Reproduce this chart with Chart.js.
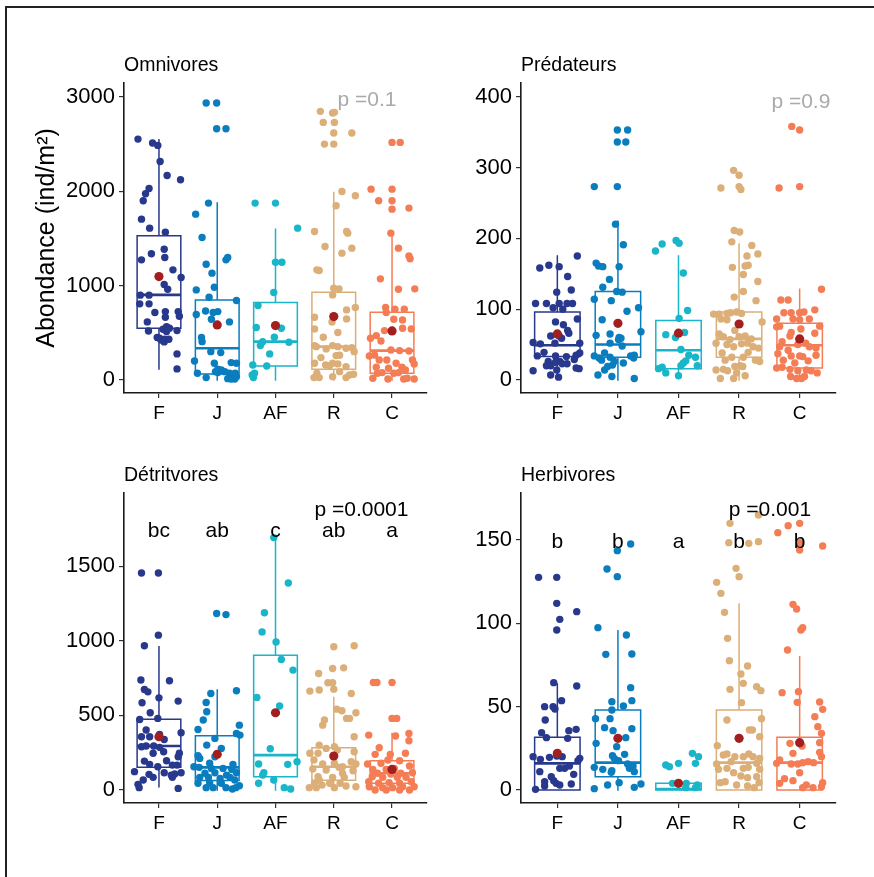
<!DOCTYPE html>
<html>
<head>
<meta charset="utf-8">
<script src="https://cdn.jsdelivr.net/npm/chart.js@4.4.1/dist/chart.umd.min.js"></script>
<style>
    body { margin: 0; background: #fff; width: 874px; height: 877px; overflow: hidden; position: relative; }
    canvas { position: absolute; }
    #frame { position: absolute; left: 5px; top: 6px; width: 1000px; height: 1000px; border-left: 2px solid #222; border-top: 2px solid #222; }
</style>
</head>
<body>
<div id="frame"></div>
<canvas id="omni" width="437" height="440" style="left:0;top:0"></canvas>
<canvas id="pred" width="437" height="440" style="left:437px;top:0"></canvas>
<canvas id="det" width="437" height="437" style="left:0;top:440px"></canvas>
<canvas id="herb" width="437" height="437" style="left:437px;top:440px"></canvas>
<script>
const groups = ["F", "J", "AF", "R", "C"];
const groupColors = ["#28388c", "#0a7dbf", "#19b5c9", "#dcae78", "#f47d55"];
const meanColor = "#a31f1f";

// each point: [jitter around the category, value]
const omniF = [[-0.36,2551],[-0.11,2509],[-0.02,2484],[0.02,2314],[0.14,2166],[0.37,2120],[-0.17,2028],[-0.23,1972],[-0.27,1898],[-0.30,1703],[-0.16,1608],[0.11,1565],[-0.30,1272],[-0.13,1336],[0.09,1385],[0.10,1297],[0.24,1166],[0.38,1085],[0.09,1011],[0.15,961],[-0.32,898],[-0.17,898],[-0.33,806],[-0.17,806],[0.11,724],[-0.07,714],[0.33,724],[0.35,675],[-0.20,615],[0.11,664],[0.13,565],[0.18,548],[-0.18,519],[0.07,537],[0.31,523],[0.13,512],[-0.03,449],[0.01,442],[0.04,424],[0.10,431],[0.17,431],[0.09,403],[0.31,276],[0.31,117]];
const omniJ = [[-0.19,2933],[-0.01,2933],[-0.01,2661],[0.15,2661],[-0.15,1873],[-0.37,1756],[-0.26,1509],[-0.19,1226],[-0.09,1131],[0.15,1272],[0.18,1297],[-0.05,982],[-0.36,954],[-0.14,876],[0.33,841],[-0.36,693],[-0.20,731],[-0.07,714],[0.01,724],[-0.10,643],[0.21,615],[-0.27,449],[-0.26,406],[-0.11,300],[0.06,290],[-0.39,201],[-0.05,177],[0.24,184],[0.33,177],[0.01,113],[0.07,106],[0.13,88],[-0.34,71],[-0.19,25],[0.21,71],[0.28,60],[0.31,71],[0.18,14],[0.24,11],[0.30,11],[0.33,35],[0.01,78],[-0.03,88]];
const omniAF = [[-0.35,1873],[0.00,1873],[0.38,1608],[0.00,1247],[0.11,1247],[-0.30,788],[-0.03,926],[-0.33,555],[0.10,548],[-0.02,452],[-0.22,406],[0.23,399],[-0.26,364],[-0.10,276],[-0.39,159],[-0.15,148],[-0.40,53],[-0.36,71],[-0.38,25]];
const omniR = [[-0.23,2845],[-0.02,2827],[0.01,2834],[-0.18,2728],[0.01,2728],[0.00,2615],[0.31,2615],[-0.16,2498],[0.00,2498],[0.14,1996],[0.37,1951],[0.04,1845],[0.22,1572],[0.24,1555],[-0.33,1572],[-0.15,1413],[0.31,1396],[0.14,1343],[-0.29,1166],[-0.25,1159],[0.00,972],[0.09,965],[-0.02,901],[0.37,767],[0.22,742],[0.22,647],[-0.03,615],[-0.33,664],[-0.33,541],[-0.18,452],[0.07,502],[-0.33,364],[-0.02,364],[0.07,353],[0.31,343],[-0.30,353],[-0.13,329],[0.21,336],[-0.22,237],[0.04,258],[0.10,261],[0.35,300],[-0.33,177],[-0.02,177],[-0.14,159],[-0.07,152],[0.07,170],[0.21,141],[0.34,60],[-0.34,25],[-0.25,25],[-0.02,35],[0.21,25],[0.27,53],[-0.29,71],[0.10,88]];
const omniC = [[0.00,2516],[0.14,2516],[-0.36,2021],[0.00,2021],[-0.23,1898],[0.00,1898],[0.00,1809],[0.29,1820],[-0.02,1555],[0.11,1396],[0.29,1314],[0.31,1283],[-0.20,1071],[0.11,961],[0.39,965],[-0.11,767],[0.05,749],[0.21,749],[-0.10,714],[0.03,643],[0.18,636],[-0.13,523],[0.33,541],[0.18,548],[-0.37,442],[-0.27,470],[-0.19,413],[-0.02,318],[0.13,311],[0.29,307],[-0.39,254],[-0.30,265],[-0.22,212],[-0.09,212],[-0.06,124],[0.07,177],[0.35,212],[0.38,170],[-0.27,134],[0.17,134],[0.23,106],[-0.25,71],[-0.17,78],[0.03,71],[0.11,78],[-0.07,11],[0.20,11],[0.26,18],[0.38,11],[-0.33,18]];

const predF = [[0.33,175],[-0.29,158],[-0.14,162],[0.03,160],[0.17,146],[0.23,127],[-0.01,124],[-0.36,108],[-0.18,108],[0.03,108],[0.16,108],[0.25,108],[-0.07,102],[0.09,100],[0.33,86],[-0.03,82],[0.10,78],[-0.40,53],[-0.28,51],[-0.11,62],[-0.04,52],[0.03,62],[0.17,70],[0.19,66],[0.07,59],[0.37,52],[-0.22,39],[-0.03,34],[0.31,35],[-0.33,34],[0.15,33],[0.28,29],[-0.15,26],[0.04,26],[-0.11,20],[0.08,23],[-0.03,25],[0.16,23],[0.31,17],[0.36,16],[-0.40,13],[-0.11,7],[0.02,4],[-0.18,20],[-0.01,14],[0.37,38]];
const predJ = [[-0.01,353],[0.16,353],[-0.01,336],[0.13,336],[-0.39,273],[-0.01,273],[-0.04,220],[0.09,191],[-0.36,165],[-0.32,161],[-0.25,160],[0.02,160],[-0.14,142],[-0.25,131],[-0.39,114],[-0.02,125],[0.07,124],[-0.11,112],[0.34,102],[0.15,97],[-0.26,85],[-0.36,63],[-0.13,65],[0.02,60],[0.01,57],[0.38,68],[-0.13,52],[0.07,48],[-0.39,34],[-0.22,38],[-0.31,31],[-0.13,32],[-0.06,26],[0.21,34],[0.27,35],[0.26,31],[-0.17,19],[-0.09,21],[-0.22,14],[0.09,24],[-0.33,7],[-0.10,5],[0.27,2],[0.05,59],[-0.27,28]];
const predAF = [[-0.38,182],[-0.27,192],[-0.04,197],[0.01,193],[0.08,151],[0.15,98],[0.01,87],[-0.21,64],[-0.05,60],[0.10,67],[0.04,43],[0.17,35],[0.28,32],[-0.27,18],[-0.33,16],[-0.21,10],[0.08,24],[0.12,27],[0.04,20],[0.31,20],[0.00,6]];
const predR = [[-0.09,296],[0.00,289],[-0.30,271],[0.00,273],[0.03,269],[-0.08,211],[0.01,209],[-0.12,195],[0.21,190],[0.13,175],[0.31,178],[-0.11,159],[0.10,161],[0.15,162],[0.07,149],[0.31,139],[0.07,125],[-0.08,117],[0.28,112],[-0.42,93],[-0.33,93],[-0.20,94],[-0.14,95],[-0.04,96],[0.04,94],[-0.30,86],[-0.20,85],[0.38,82],[-0.07,70],[-0.33,65],[-0.26,61],[-0.15,57],[0.00,61],[0.10,62],[0.20,58],[-0.38,52],[-0.20,50],[-0.09,47],[0.04,51],[0.14,52],[0.23,47],[0.32,45],[-0.28,38],[-0.12,32],[0.07,32],[0.15,39],[-0.23,28],[0.27,28],[0.34,26],[0.02,20],[-0.07,19],[-0.38,14],[-0.26,15],[-0.19,13],[-0.04,10],[0.06,19],[-0.31,2],[-0.09,2],[0.10,6]];
const predC = [[-0.13,358],[0.00,353],[-0.34,271],[0.00,273],[0.36,128],[-0.31,113],[-0.19,113],[0.25,99],[-0.26,95],[-0.14,95],[0.00,95],[0.07,96],[-0.38,86],[-0.33,76],[-0.11,86],[0.00,85],[0.16,86],[0.33,76],[-0.38,75],[0.02,72],[0.25,66],[-0.14,67],[-0.29,54],[-0.16,62],[0.10,52],[0.16,47],[-0.03,50],[-0.33,47],[0.27,45],[-0.19,42],[-0.36,37],[-0.14,34],[0.00,34],[0.27,35],[0.05,33],[-0.27,28],[-0.08,24],[0.14,27],[-0.38,17],[-0.29,18],[-0.16,15],[-0.03,13],[0.11,14],[0.19,13],[0.29,10],[-0.15,5],[-0.05,2],[0.03,2],[0.08,5]];

const detF = [[-0.30,1455],[-0.01,1455],[-0.01,1038],[-0.25,967],[-0.31,737],[0.18,732],[-0.25,674],[-0.19,658],[-0.29,585],[0.00,618],[0.33,596],[-0.15,518],[-0.33,473],[-0.02,480],[-0.22,402],[-0.30,357],[-0.16,357],[0.01,373],[0.09,339],[0.38,384],[-0.30,290],[-0.22,295],[-0.09,295],[0.01,286],[0.35,246],[0.33,223],[-0.10,246],[0.08,257],[0.13,196],[-0.25,194],[-0.16,172],[-0.02,156],[0.23,167],[0.31,167],[-0.42,123],[-0.17,105],[0.09,116],[0.21,100],[0.27,107],[0.38,116],[-0.10,85],[0.23,85],[-0.27,67],[-0.36,38],[-0.34,16],[0.33,11]];
const detJ = [[-0.01,1183],[0.15,1176],[0.33,665],[-0.11,647],[-0.19,587],[-0.18,525],[-0.24,469],[-0.33,406],[0.38,435],[0.33,379],[-0.04,346],[0.39,368],[-0.18,301],[0.07,279],[-0.33,230],[-0.30,212],[-0.04,223],[-0.13,179],[0.27,172],[-0.40,156],[-0.31,152],[-0.10,145],[0.10,145],[0.25,138],[-0.21,112],[-0.04,116],[0.16,100],[0.33,116],[-0.30,85],[-0.15,85],[0.05,78],[0.22,85],[0.30,67],[-0.33,45],[-0.13,49],[0.07,45],[0.38,29],[-0.19,16],[-0.07,16],[0.15,16],[0.26,7],[0.32,16]];
const detAF = [[-0.03,1692],[0.22,1388],[-0.19,1188],[-0.23,1060],[0.01,993],[0.10,875],[0.30,804],[-0.32,621],[0.07,563],[-0.09,277],[-0.29,174],[-0.20,116],[-0.22,100],[0.21,172],[0.37,190],[-0.03,67],[-0.29,45],[0.15,16],[0.26,7]];
const detR = [[0.00,960],[0.35,967],[0.17,819],[-0.02,815],[-0.26,781],[-0.10,719],[-0.02,719],[0.00,676],[-0.41,663],[-0.25,670],[0.30,647],[0.05,542],[0.14,531],[0.22,480],[0.27,480],[0.38,518],[-0.16,469],[-0.19,435],[0.35,357],[-0.25,301],[0.06,268],[0.35,257],[-0.41,246],[-0.27,246],[0.01,290],[-0.13,279],[-0.34,201],[-0.19,174],[0.01,179],[0.30,190],[0.09,152],[0.15,156],[0.38,174],[-0.36,141],[-0.13,134],[0.15,112],[0.33,129],[-0.27,89],[-0.02,85],[0.18,85],[-0.33,45],[-0.20,33],[-0.07,45],[0.11,45],[0.21,27],[0.38,22],[-0.42,16],[-0.30,16],[0.01,16],[-0.25,67]];
const detC = [[-0.32,721],[-0.26,721],[0.00,721],[0.00,480],[0.08,480],[-0.40,368],[-0.22,283],[0.29,379],[0.06,362],[0.29,330],[-0.29,239],[-0.03,239],[0.23,246],[-0.07,201],[0.13,196],[-0.42,174],[-0.19,179],[-0.33,138],[-0.10,138],[0.04,145],[0.30,161],[-0.25,112],[-0.02,107],[0.15,112],[0.35,116],[-0.34,89],[-0.16,85],[0.09,85],[0.24,85],[-0.40,56],[-0.23,45],[-0.05,49],[0.13,45],[0.33,56],[-0.39,22],[-0.16,16],[0.01,16],[0.18,22],[0.38,22],[-0.29,0],[-0.10,0],[0.13,0],[0.30,0]];

const herbF = [[-0.31,127.6],[-0.01,127.6],[-0.01,112],[0.04,102.4],[0.32,107],[-0.01,96],[-0.06,64.4],[0.32,62.4],[0.07,53.6],[-0.21,50],[-0.07,50],[-0.04,48.6],[-0.20,42],[-0.26,34.4],[-0.18,31.4],[0.17,31],[0.31,36.4],[0.19,35.6],[-0.40,20],[-0.28,18.4],[-0.13,19.6],[-0.01,20.4],[0.08,20],[0.37,19],[0.34,17.6],[0.04,13],[0.12,13],[0.20,14.4],[-0.29,11],[-0.10,8],[0.27,9.4],[-0.21,5],[-0.06,5.6],[-0.02,4],[0.04,3],[0.23,3.6],[-0.36,0.4],[-0.21,2.4]];
const herbJ = [[0.21,147.6],[-0.01,143.6],[-0.18,132.6],[-0.01,128],[-0.33,97.4],[0.14,93],[-0.20,81.4],[0.23,81.6],[0.21,61.4],[-0.10,53],[0.23,53.6],[0.09,50.4],[-0.10,48],[-0.37,42.8],[-0.13,42.8],[-0.22,37.4],[-0.08,35.6],[0.23,36.8],[-0.36,28],[0.13,31.4],[-0.02,26],[-0.09,20.6],[0.11,21.4],[-0.06,19],[0.01,17.6],[0.16,15.6],[0.25,14.4],[-0.39,13.6],[-0.25,12.4],[-0.10,11.6],[0.19,13],[0.27,11],[-0.11,10.6],[0.02,4.4],[-0.17,3],[0.38,3.6],[-0.39,0.8],[0.27,1.6]];
const herbAF = [[-0.21,15],[-0.15,14],[0.00,16],[0.23,22],[0.33,20],[0.28,16],[-0.10,4],[0.13,4],[0.31,3],[0.12,1.4],[0.28,1.4]];
const herbR = [[-0.15,160],[0.32,165],[-0.17,148.4],[0.16,148],[0.32,149],[-0.05,133],[0.00,128],[-0.37,124.6],[-0.30,118],[-0.24,106.6],[-0.19,91],[-0.16,77.6],[0.14,74.4],[0.03,69.6],[0.07,64],[-0.15,60.4],[0.29,62],[0.36,59.6],[0.04,52.4],[-0.20,42],[0.37,42.8],[-0.36,26.6],[0.17,36],[0.22,36],[0.34,32],[-0.20,21.6],[-0.07,20],[0.07,20],[0.16,21.6],[0.23,20],[0.34,19],[-0.26,21],[-0.13,17],[0.29,16],[-0.37,15.6],[-0.20,13],[0.07,13],[0.15,13.6],[0.34,12.4],[-0.34,12.4],[-0.09,10.4],[0.03,8.4],[0.14,7.4],[0.29,8],[-0.31,4.4],[-0.23,5],[-0.04,3],[0.14,2.4],[0.25,1.4],[0.33,4.4]];
const herbC = [[-0.36,154.4],[-0.19,158.6],[0.00,160],[0.00,148.4],[0.00,144],[0.38,146.4],[-0.11,111.4],[-0.05,108.6],[0.02,96],[0.05,97.4],[-0.20,84],[-0.29,58.4],[-0.02,59],[-0.04,52.6],[0.33,52.8],[0.25,44],[0.38,48.4],[0.30,38],[0.36,34],[0.33,28.4],[-0.16,28],[-0.11,22],[0.04,26.4],[-0.38,16],[0.14,17],[0.33,22.6],[0.36,20],[-0.33,18],[-0.14,15.6],[-0.03,15.6],[0.05,16.4],[0.23,16.4],[0.00,10.4],[-0.25,6.8],[-0.11,5.6],[0.11,3],[-0.33,4],[0.22,1.4],[0.36,2],[0.38,4.4],[0.05,1.4]];

// box stats per group: [low whisker, q1, median, q3, high whisker, mean]
const omniStats = [[117,548,901,1527,2544,1095],[0,64,336,848,1873,583],[0,148,406,820,1597,576],[0,113,353,929,1986,671],[0,71,311,717,1572,519]];
const predStats = [[3,33,49,96,175,65],[0,32,50,125,224,80],[6,16,42,84,175,66],[0,32,58,96,192,79],[2,17,49,80,128,58]];
const detStats = [[22,152,295,475,960,357],[0,63,152,364,670,239],[0,89,234,904,1692,518],[0,66,156,283,621,228],[0,45,112,196,379,138]];
const herbStats = [[0,0,16,31.6,63.6,22],[0,8,16.4,48,95.6,31],[0,0,0.6,4,4,4],[0,0,16.4,48,111.6,31],[0,0,16.4,31.6,80,28.4]];

const omniTicks = [0, 1000, 2000, 3000];
const predTicks = [0, 100, 200, 300, 400];
const detTicks = [0, 500, 1000, 1500];
const herbTicks = [0, 50, 100, 150];

const detLetters = ["bc", "ab", "c", "ab", "a"];
const herbLetters = ["b", "b", "a", "b", "b"];

const FONT = '"Liberation Sans", Arial, sans-serif';

// titles, p values, letters and the y title
const panelText = {
    id: "panelText",
    afterDraw(chart, args, o) {
        const { ctx, chartArea: a } = chart;
        const x = chart.scales.x, y = chart.scales.y;
        ctx.save();
        ctx.fillStyle = "#000";
        ctx.textBaseline = "alphabetic";
        ctx.textAlign = "left";
        ctx.font = "19.5px " + FONT;
        ctx.fillText(o.title, a.left, a.top - 12.3);

        ctx.font = "21px " + FONT;
        ctx.textAlign = "center";
        if (o.letters) {
            o.letters.forEach((t, i) => ctx.fillText(t, x.getPixelForValue(i + 1), y.getPixelForValue(o.lettersY)));
        }
        ctx.fillStyle = o.pColor;
        ctx.fillText(o.pText, x.getPixelForValue(o.pX), y.getPixelForValue(o.pY));

        if (o.yTitle) {
            ctx.fillStyle = "#000";
            ctx.font = "25px " + FONT;
            ctx.translate(54, (a.top + a.bottom) / 2);
            ctx.rotate(-Math.PI / 2);
            ctx.fillText(o.yTitle, 0, 0);
        }
        ctx.restore();
    }
};

function boxPath(s, c) {
    const w = 0.375;
    return [
        { x: c - w, y: s[1] }, { x: c + w, y: s[1] }, { x: c + w, y: s[3] }, { x: c - w, y: s[3] }, { x: c - w, y: s[1] },
        { x: c, y: null },
        { x: c, y: s[3] }, { x: c, y: s[4] },
        { x: c, y: null },
        { x: c, y: s[1] }, { x: c, y: s[0] }
    ];
}

function makePanel(id, p) {
    const datasets = [];
    datasets.push({
        data: p.stats.map((s, i) => ({ x: i + 1, y: s[5] })),
        pointRadius: 4.6, pointBackgroundColor: meanColor, pointBorderWidth: 0, showLine: false, order: 0
    });
    p.points.forEach((arr, i) => {
        datasets.push({
            data: arr.map(([j, v]) => ({ x: i + 1 + j, y: v })),
            pointRadius: 3.7, pointBackgroundColor: groupColors[i], pointBorderWidth: 0, showLine: false, order: 1
        });
    });
    p.stats.forEach((s, i) => {
        datasets.push({
            data: boxPath(s, i + 1), showLine: true, spanGaps: false, borderColor: groupColors[i],
            borderWidth: 1.5, pointRadius: 0, borderCapStyle: "square", borderJoinStyle: "miter", order: 2
        });
        datasets.push({
            data: [{ x: i + 1 - 0.375, y: s[2] }, { x: i + 1 + 0.375, y: s[2] }], showLine: true,
            borderColor: groupColors[i], borderWidth: 2.6, pointRadius: 0, order: 2
        });
    });

    return new Chart(document.getElementById(id), {
        type: "scatter",
        data: { datasets: datasets },
        plugins: [panelText],
        options: {
            responsive: false,
            devicePixelRatio: 1,
            animation: false,
            events: [],
            layout: { padding: p.padding },
            plugins: {
                legend: { display: false },
                tooltip: { enabled: false },
                panelText: p.text
            },
            scales: {
                x: {
                    type: "linear", min: 0.4, max: 5.6,
                    afterBuildTicks: s => { s.ticks = [1, 2, 3, 4, 5].map(v => ({ value: v })); },
                    afterFit: s => { s.height = p.xHeight; },
                    ticks: {
                        callback: v => groups[v - 1], autoSkip: false, maxRotation: 0,
                        color: "#000", padding: 4, font: { family: FONT, size: 19 }
                    },
                    grid: { drawOnChartArea: false, tickLength: 5, color: "#333", lineWidth: 1.2 },
                    border: { color: "#1a1a1a", width: 1.6 }
                },
                y: {
                    type: "linear", min: p.yMin, max: p.yMax,
                    afterBuildTicks: s => { s.ticks = p.ticks.map(v => ({ value: v })); },
                    afterFit: s => { s.width = p.yWidth; },
                    ticks: { callback: v => String(v), color: "#000", padding: 4, font: { family: FONT, size: 22 } },
                    grid: { drawOnChartArea: false, tickLength: 5, color: "#333", lineWidth: 1.2 },
                    border: { color: "#1a1a1a", width: 1.6 }
                }
            }
        }
    });
}

makePanel("omni", {
    points: [omniF, omniJ, omniAF, omniR, omniC], stats: omniStats, ticks: omniTicks,
    yMin: -138, yMax: 3145, yWidth: 124, xHeight: 47,
    padding: { top: 83, left: 0, right: 10, bottom: 0 },
    text: { title: "Omnivores", pText: "p =0.1", pColor: "#aaaaaa", pX: 4.57, pY: 2902, yTitle: "Abondance (ind/m²)" }
});
makePanel("pred", {
    points: [predF, predJ, predAF, predR, predC], stats: predStats, ticks: predTicks,
    yMin: -18.4, yMax: 419.3, yWidth: 84, xHeight: 47,
    padding: { top: 83, left: 0, right: 38, bottom: 0 },
    text: { title: "Prédateurs", pText: "p =0.9", pColor: "#aaaaaa", pX: 5.02, pY: 384 }
});
makePanel("det", {
    points: [detF, detJ, detAF, detR, detC], stats: detStats, ticks: detTicks,
    yMin: -87, yMax: 1991, yWidth: 124, xHeight: 74,
    padding: { top: 53, left: 0, right: 10, bottom: 0 },
    text: { title: "Détritvores", pText: "p =0.0001", pColor: "#000", pX: 4.475, pY: 1837, letters: detLetters, lettersY: 1694 }
});
makePanel("herb", {
    points: [herbF, herbJ, herbAF, herbR, herbC], stats: herbStats, ticks: herbTicks,
    yMin: -7.8, yMax: 178.2, yWidth: 84, xHeight: 74,
    padding: { top: 53, left: 0, right: 38, bottom: 0 },
    text: { title: "Herbivores", pText: "p =0.001", pColor: "#000", pX: 4.51, pY: 164.4, letters: herbLetters, lettersY: 145 }
});
</script>
</body>
</html>
